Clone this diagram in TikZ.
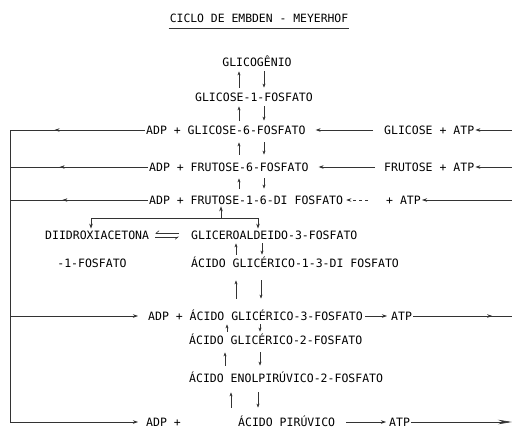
\documentclass[tikz,border=0pt]{standalone}
\usepackage{fontspec}
\setmonofont{DejaVu Sans Mono}
\usetikzlibrary{arrows.meta,calc,decorations.markings}

% par de setas verticais (sobe / desce) entre dois compostos
\newcommand{\parvert}[5][]{%
  \draw[vseta,#1] (#4,0 |- #3.north) -- (#4,0 |- #2.south);
  \draw[vseta,#1] (#5,0 |- #2.south) -- (#5,0 |- #3.north);}

\begin{document}
\begin{tikzpicture}[x=1pt,y=-1pt,
  tx/.style={font=\ttfamily\fontsize{11.5}{13}\selectfont,text height=8.4pt,text depth=0pt,
    inner xsep=1pt,inner ysep=2pt,text=black},
  linha/.style={line width=0.6pt,black!80},
  seta/.style={linha,-{Stealth[length=5pt,width=3.5pt]}},
  vseta/.style={linha,-{Stealth[length=4pt,width=3pt]},shorten <=3pt,shorten >=3pt},
  setameio/.style={linha,postaction={decorate},
    decoration={markings,mark=at position #1 with {\arrow{Stealth[length=5pt,width=3.5pt]}}}},
  harp/.style={linha,-{Straight Barb[harpoon,swap,length=3pt,width=5pt]}}]
  \useasboundingbox (0,0) rectangle (512,429);

  % titulo
  \node[tx,font=\ttfamily\fontsize{11.4}{13}\selectfont] (titulo) at (259,18) {CICLO DE EMBDEN - MEYERHOF};
  \draw[linha] ([yshift=-3.5pt]titulo.south west) -- ([yshift=-3.5pt]titulo.south east);

  % compostos
  \node[tx] (glicog) at (257,62) {GLICOGÊNIO};
  \node[tx] (g1p) at (254,97) {GLICOSE-1-FOSFATO};
  \node[tx,anchor=west] (g6p) at (145,130) {ADP + GLICOSE-6-FOSFATO};
  \node[tx,anchor=west] (glic) at (383,130) {GLICOSE + ATP};
  \node[tx,anchor=west] (f6p) at (148,167) {ADP + FRUTOSE-6-FOSFATO};
  \node[tx,anchor=west] (frut) at (383,167) {FRUTOSE + ATP};
  \node[tx,anchor=west] (f16dp) at (148,200) {ADP + FRUTOSE-1-6-DI FOSFATO};
  \node[tx,anchor=west] (atpf) at (385,200) {+ ATP};
  \node[tx,anchor=west] (dhap) at (44,235) {DIIDROXIACETONA};
  \node[tx] (dhapb) at (92,263) {-1-FOSFATO};
  \node[tx,anchor=west] (gap) at (190,235) {GLICEROALDEIDO-3-FOSFATO};
  \node[tx,anchor=west] (bpg) at (190,263) {ÁCIDO GLICÉRICO-1-3-DI FOSFATO};
  \node[tx,anchor=west] (g3p) at (147,316) {ADP + ÁCIDO GLICÉRICO-3-FOSFATO};
  \node[tx,anchor=west] (atpg) at (390,316) {ATP};
  \node[tx,anchor=west] (pg2) at (188,340) {ÁCIDO GLICÉRICO-2-FOSFATO};
  \node[tx,anchor=west] (pep) at (188,378) {ÁCIDO ENOLPIRÚVICO-2-FOSFATO};
  \node[tx,anchor=west] (adpp) at (145,422) {ADP +};
  \node[tx,anchor=west] (pir) at (237,422) {ÁCIDO PIRÚVICO};
  \node[tx,anchor=west] (atpp) at (388,422) {ATP};

  % cantos do circuito do ADP e bordas
  \coordinate (ca) at (10,130);
  \coordinate (cb) at (10,167);
  \coordinate (cc) at (10,200);
  \coordinate (cd) at (10,316);
  \coordinate (ce) at (10,422);
  \coordinate (da) at (512,130);
  \coordinate (db) at (512,167);
  \coordinate (dc) at (512,200);
  \coordinate (dd) at (512,316);
  \coordinate (de) at (512,422);
  \coordinate (ramo) at (221,218);

  % setas verticais
  \parvert{glicog}{g1p}{239}{264}
  \parvert{g1p}{g6p}{239}{264}
  \parvert[shorten <=6pt,shorten >=6pt]{g6p}{f6p}{239}{264}
  \parvert[shorten <=5pt,shorten >=5pt]{f6p}{f16dp}{239}{264}
  \parvert[shorten <=2pt,shorten >=2pt]{gap}{bpg}{236}{262}
  \parvert[shorten <=11pt,shorten >=11pt]{bpg}{g3p}{236}{261}
  \parvert[shorten <=2pt,shorten >=2pt]{g3p}{pg2}{227}{260}
  \parvert[shorten <=6pt,shorten >=6pt]{pg2}{pep}{225}{260}
  \parvert[shorten <=8pt,shorten >=8pt]{pep}{pir}{231}{258}

  % ADP para a esquerda e de volta
  \draw[linha] (ca) -- (ce);
  \draw[setameio=0.67] (g6p.west) -- (ca);
  \draw[setameio=0.64] (f6p.west) -- (cb);
  \draw[setameio=0.62] (f16dp.west) -- (cc);
  \draw[seta,shorten >=9pt] (cd) -- (g3p.west);
  \draw[seta,shorten >=7pt] (ce) -- (adpp.west);

  % ATP a direita
  \draw[seta] (da) -- (glic.east);
  \draw[seta,shorten >=9pt,shorten <=10pt] (glic.west) -- (g6p.east);
  \draw[seta] (db) -- (frut.east);
  \draw[seta,shorten >=9pt,shorten <=8pt] (frut.west) -- (f6p.east);
  \draw[seta] (dc) -- (atpf.east);
  \draw[seta,dashed,shorten >=2pt,shorten <=17pt] (atpf.west) -- (f16dp.east);
  \draw[seta,shorten >=3pt,shorten <=1pt] (g3p.east) -- (atpg.west);
  \draw[setameio=0.8] (atpg.east) -- (dd);
  \draw[seta,shorten <=10pt,shorten >=2pt] (pir.east) -- (atpp.west);
  \draw[linha,-{Stealth[length=14pt,width=4.5pt]}] (atpp.east) -- (de);

  % divisao da frutose-1-6-di fosfato
  \draw[seta] (ramo) -- (f16dp.south -| ramo);
  \draw[seta] (ramo) -| (91,0 |- dhap.north);
  \draw[seta] (ramo) -| (258,0 |- gap.north);
  \draw[harp,shorten <=11pt,shorten >=5pt] ([yshift=1.8pt]gap.west) -- ([yshift=1.8pt]dhap.east);
  \draw[harp,shorten <=5pt,shorten >=11pt] ([yshift=-1.8pt]dhap.east) -- ([yshift=-1.8pt]gap.west);
\end{tikzpicture}
\end{document}
